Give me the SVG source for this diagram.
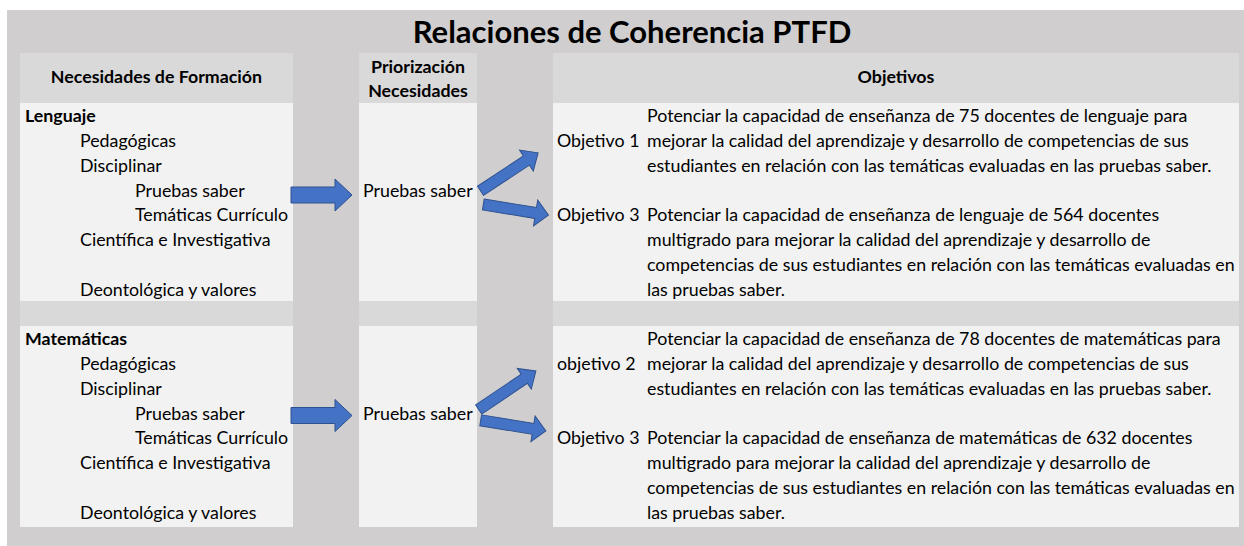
<svg xmlns="http://www.w3.org/2000/svg" xmlns:xlink="http://www.w3.org/1999/xlink" width="1244" height="546" viewBox="0 0 1244 546">
<style>
text{font-family:Lato,"Liberation Sans",sans-serif;font-size:17.8px;fill:#000}
.b{font-weight:bold}
.t{font-weight:bold;font-size:31px}
.c{text-anchor:middle}
.hd{fill:#d9d9d9}
.bd{fill:#f2f2f2}
.arr{fill:#4472c4;stroke:#2f528f;stroke-width:1}
</style>
<defs>
<path id="arrUp" d="M0,-5.5 H55 V-12.5 L69,0 L55,12.5 V5.5 H0 Z"/>
<path id="arrDn" d="M0,-5.5 H53 V-13 L66,0 L53,13 V5.5 H0 Z"/>
</defs>
<rect x="7" y="10" width="1237" height="536" fill="#d0cece"/>
<g id="title"><text class="t c" x="632" y="43">Relaciones de Coherencia PTFD</text></g>
<g id="bands">
<rect class="hd" x="20" y="301" width="273" height="25"/>
<rect class="hd" x="359" y="301" width="118" height="25"/>
<rect class="hd" x="553" y="301" width="686" height="25"/>
</g>
<g id="header-necesidades">
<rect class="hd" x="20" y="53" width="273" height="50"/>
<text class="b c" x="156.5" y="83">Necesidades de Formación</text>
</g>
<g id="header-priorizacion">
<rect class="hd" x="359" y="53" width="118" height="50"/>
<text class="b c" x="418" y="72.5">Priorización</text>
<text class="b c" x="418" y="97">Necesidades</text>
</g>
<g id="header-objetivos">
<rect class="hd" x="553" y="53" width="686" height="50"/>
<text class="b c" x="896" y="83">Objetivos</text>
</g>
<g id="necesidades-lenguaje">
<rect class="bd" x="20" y="103" width="273" height="198"/>
<text class="b" x="25" y="122">Lenguaje</text>
<text x="80" y="146.9">Pedagógicas</text>
<text x="80" y="171.7">Disciplinar</text>
<text x="135" y="196.6">Pruebas saber</text>
<text x="135" y="221.4">Temáticas Currículo</text>
<text x="80" y="246.3">Científica e Investigativa</text>
<text x="80" y="296">Deontológica y valores</text>
</g>
<g id="priorizacion-lenguaje">
<rect class="bd" x="359" y="103" width="118" height="198"/>
<text x="363" y="196.6">Pruebas saber</text>
</g>
<g id="objetivos-lenguaje">
<rect class="bd" x="553" y="103" width="686" height="198"/>
</g>
<g id="objetivo-1">
<text x="557" y="146.9">Objetivo 1</text>
<text x="647" y="122">Potenciar la capacidad de enseñanza de 75 docentes de lenguaje para</text>
<text x="647" y="146.9">mejorar la calidad del aprendizaje y desarrollo de competencias de sus</text>
<text x="647" y="171.7">estudiantes en relación con las temáticas evaluadas en las pruebas saber.</text>
</g>
<g id="objetivo-3-lenguaje">
<text x="557" y="221.4">Objetivo 3</text>
<text x="647" y="221.4">Potenciar la capacidad de enseñanza de lenguaje de 564 docentes</text>
<text x="647" y="246.3">multigrado para mejorar la calidad del aprendizaje y desarrollo de</text>
<text x="647" y="271.1">competencias de sus estudiantes en relación con las temáticas evaluadas en</text>
<text x="647" y="296">las pruebas saber.</text>
</g>
<g id="necesidades-matematicas">
<rect class="bd" x="20" y="326" width="273" height="201"/>
<text class="b" x="25" y="345">Matemáticas</text>
<text x="80" y="369.9">Pedagógicas</text>
<text x="80" y="394.7">Disciplinar</text>
<text x="135" y="419.6">Pruebas saber</text>
<text x="135" y="444.4">Temáticas Currículo</text>
<text x="80" y="469.3">Científica e Investigativa</text>
<text x="80" y="519">Deontológica y valores</text>
</g>
<g id="priorizacion-matematicas">
<rect class="bd" x="359" y="326" width="118" height="201"/>
<text x="363" y="419.6">Pruebas saber</text>
</g>
<g id="objetivos-matematicas">
<rect class="bd" x="553" y="326" width="686" height="201"/>
</g>
<g id="objetivo-2">
<text x="557" y="369.9">objetivo 2</text>
<text x="647" y="345">Potenciar la capacidad de enseñanza de 78 docentes de matemáticas para</text>
<text x="647" y="369.9">mejorar la calidad del aprendizaje y desarrollo de competencias de sus</text>
<text x="647" y="394.7">estudiantes en relación con las temáticas evaluadas en las pruebas saber.</text>
</g>
<g id="objetivo-3-matematicas">
<text x="557" y="444.4">Objetivo 3</text>
<text x="647" y="444.4">Potenciar la capacidad de enseñanza de matemáticas de 632 docentes</text>
<text x="647" y="469.3">multigrado para mejorar la calidad del aprendizaje y desarrollo de</text>
<text x="647" y="494.1">competencias de sus estudiantes en relación con las temáticas evaluadas en</text>
<text x="647" y="519">las pruebas saber.</text>
</g>
<g id="connectors">
<path class="arr" d="M291,187 H335 V179 L352,195 L335,211 V203 H291 Z"/>
<use class="arr" xlink:href="#arrUp" transform="translate(480.5,190.8) rotate(-33.4)"/>
<use class="arr" xlink:href="#arrDn" transform="translate(483.3,204.5) rotate(9.2)"/>
<path class="arr" d="M291,407.5 H335 V399.5 L352,415.5 L335,431.5 V423.5 H291 Z"/>
<use class="arr" xlink:href="#arrUp" transform="translate(478.7,409.5) rotate(-34)"/>
<use class="arr" xlink:href="#arrDn" transform="translate(480.7,420.3) rotate(9.3)"/>
</g>
</svg>
